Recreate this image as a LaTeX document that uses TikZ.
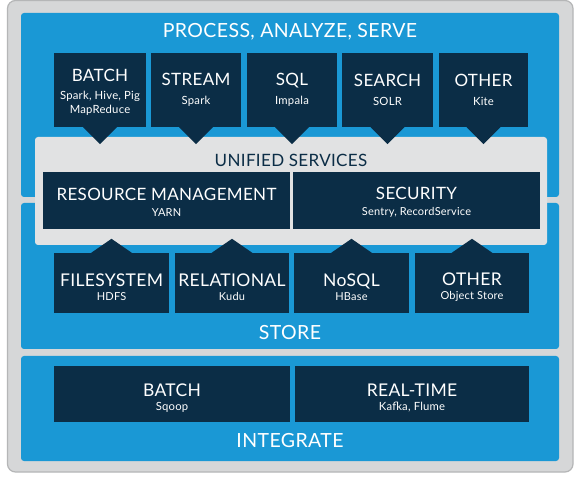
\documentclass[tikz,border=0pt]{standalone}
\usepackage{fontspec}
\setmainfont[LetterSpace=2]{Lato}
\usepackage{tikz}
\usetikzlibrary{calc}
\definecolor{cdhBlue}{HTML}{1A98D5}
\definecolor{cdhNavy}{HTML}{0B2D46}
\definecolor{cdhGray}{HTML}{D6D7D8}
\definecolor{cdhLight}{HTML}{E1E2E3}
\definecolor{cdhEdge}{HTML}{B5B6B7}

\tikzset{
  panel/.style={fill=cdhBlue, rounded corners=3pt},
  tile/.style={fill=cdhNavy, text=white, align=center, inner sep=0pt,
    font=\fontsize{11.3}{13.5}\selectfont},
  band/.style={text=white, font=\fontsize{19.5}{22}\selectfont},
  pointer/.style={fill=cdhNavy}
}

\begin{document}
\begin{tikzpicture}[x=1pt, y=-1pt]
    \useasboundingbox (0,0) rectangle (584,478);
    \fill[white] (0,0) rectangle (584,478);
    % outer frame and the three bands
    \draw[cdhEdge, fill=cdhGray, line width=1.2pt, rounded corners=8pt] (7.5,0.5) rectangle (573,472);
    \fill[panel] (21,13) rectangle (559,197);
    \fill[panel] (21,203) rectangle (559,349);
    \fill[panel] (21,356) rectangle (559,461);
    \fill[cdhLight, rounded corners=3pt] (35,137) rectangle (547,245);

    % process, analyze, serve
    \node[tile, minimum width=92pt, minimum height=74pt] (batch) at (100,90)
      {{\fontsize{17}{20}\selectfont\rule{0pt}{16pt}BATCH}\\[5pt]Spark, Hive, Pig\\MapReduce};
    \node[tile, minimum width=90pt, minimum height=74pt] (stream) at (196,90)
      {{\fontsize{17}{20}\selectfont STREAM}\\[5pt]Spark};
    \node[tile, minimum width=90pt, minimum height=74pt] (sql) at (292,90)
      {{\fontsize{17}{20}\selectfont SQL}\\[5pt]Impala};
    \node[tile, minimum width=91pt, minimum height=74pt] (search) at (387.5,90)
      {{\fontsize{17}{20}\selectfont SEARCH}\\[5pt]SOLR};
    \node[tile, minimum width=89pt, minimum height=74pt] (other) at (483.5,90)
      {{\fontsize{17}{20}\selectfont OTHER}\\[5pt]Kite};
    \foreach \t in {batch,stream,sql,search,other}
      \fill[pointer] ($(\t.south)+(-17,0)$) -- ($(\t.south)+(0,17)$) -- ($(\t.south)+(17,0)$) -- cycle;

    % unified services
    \node[text=cdhNavy, font=\fontsize{17}{20}\selectfont] (unified) at (291,160) {UNIFIED SERVICES};
    \node[tile, minimum width=247pt, minimum height=57pt] (resmgmt) at (166.5,200.5)
      {{\fontsize{17}{20}\selectfont\rule{0pt}{16pt}RESOURCE MANAGEMENT}\\[2pt]{\fontsize{11}{12}\selectfont YARN}};
    \node[tile, minimum width=247pt, minimum height=57pt] (security) at (416.5,200.5)
      {{\fontsize{17}{20}\selectfont\rule{0pt}{16pt}SECURITY}\\[2pt]{\fontsize{11}{12}\selectfont Sentry, RecordService}};

    % store
    \node[tile, minimum width=115pt, minimum height=60pt] (filesys) at (111.5,283)
      {{\fontsize{17.5}{20}\selectfont\rule{0pt}{21pt}FILESYSTEM}\\[0pt]{\fontsize{11}{12}\selectfont HDFS}};
    \node[tile, minimum width=114pt, minimum height=60pt] (relational) at (232,283)
      {{\fontsize{17.5}{20}\selectfont\rule{0pt}{21pt}RELATIONAL}\\[0pt]{\fontsize{11}{12}\selectfont Kudu}};
    \node[tile, minimum width=115pt, minimum height=60pt] (nosql) at (351.5,283)
      {{\fontsize{17.5}{20}\selectfont\rule{0pt}{21pt}NoSQL}\\[0pt]{\fontsize{11}{12}\selectfont HBase}};
    \node[tile, minimum width=114pt, minimum height=60pt] (objstore) at (472,283)
      {{\fontsize{17.5}{20}\selectfont\rule{0pt}{21pt}OTHER}\\[0pt]{\fontsize{11}{12}\selectfont Object Store}};
    \foreach \t in {filesys,relational,nosql,objstore}
      \fill[pointer] ($(\t.north)+(-21,0.5)$) -- ($(\t.north)+(0,-14)$) -- ($(\t.north)+(21,0.5)$) -- cycle;
    \node[band] (store) at (290,333) {STORE};

    % integrate
    \node[tile, minimum width=236pt, minimum height=56pt] (ingbatch) at (172,394)
      {{\fontsize{17.5}{20}\selectfont\rule{0pt}{21pt}BATCH}\\[1pt]Sqoop};
    \node[tile, minimum width=234pt, minimum height=56pt] (realtime) at (412,394)
      {{\fontsize{17.5}{20}\selectfont\rule{0pt}{21pt}REAL-TIME}\\[1pt]Kafka, Flume};
    \node[band] (integrate) at (290,441) {INTEGRATE};

    \node[band] (process) at (290,32) {PROCESS, ANALYZE, SERVE};
\end{tikzpicture}
\end{document}
